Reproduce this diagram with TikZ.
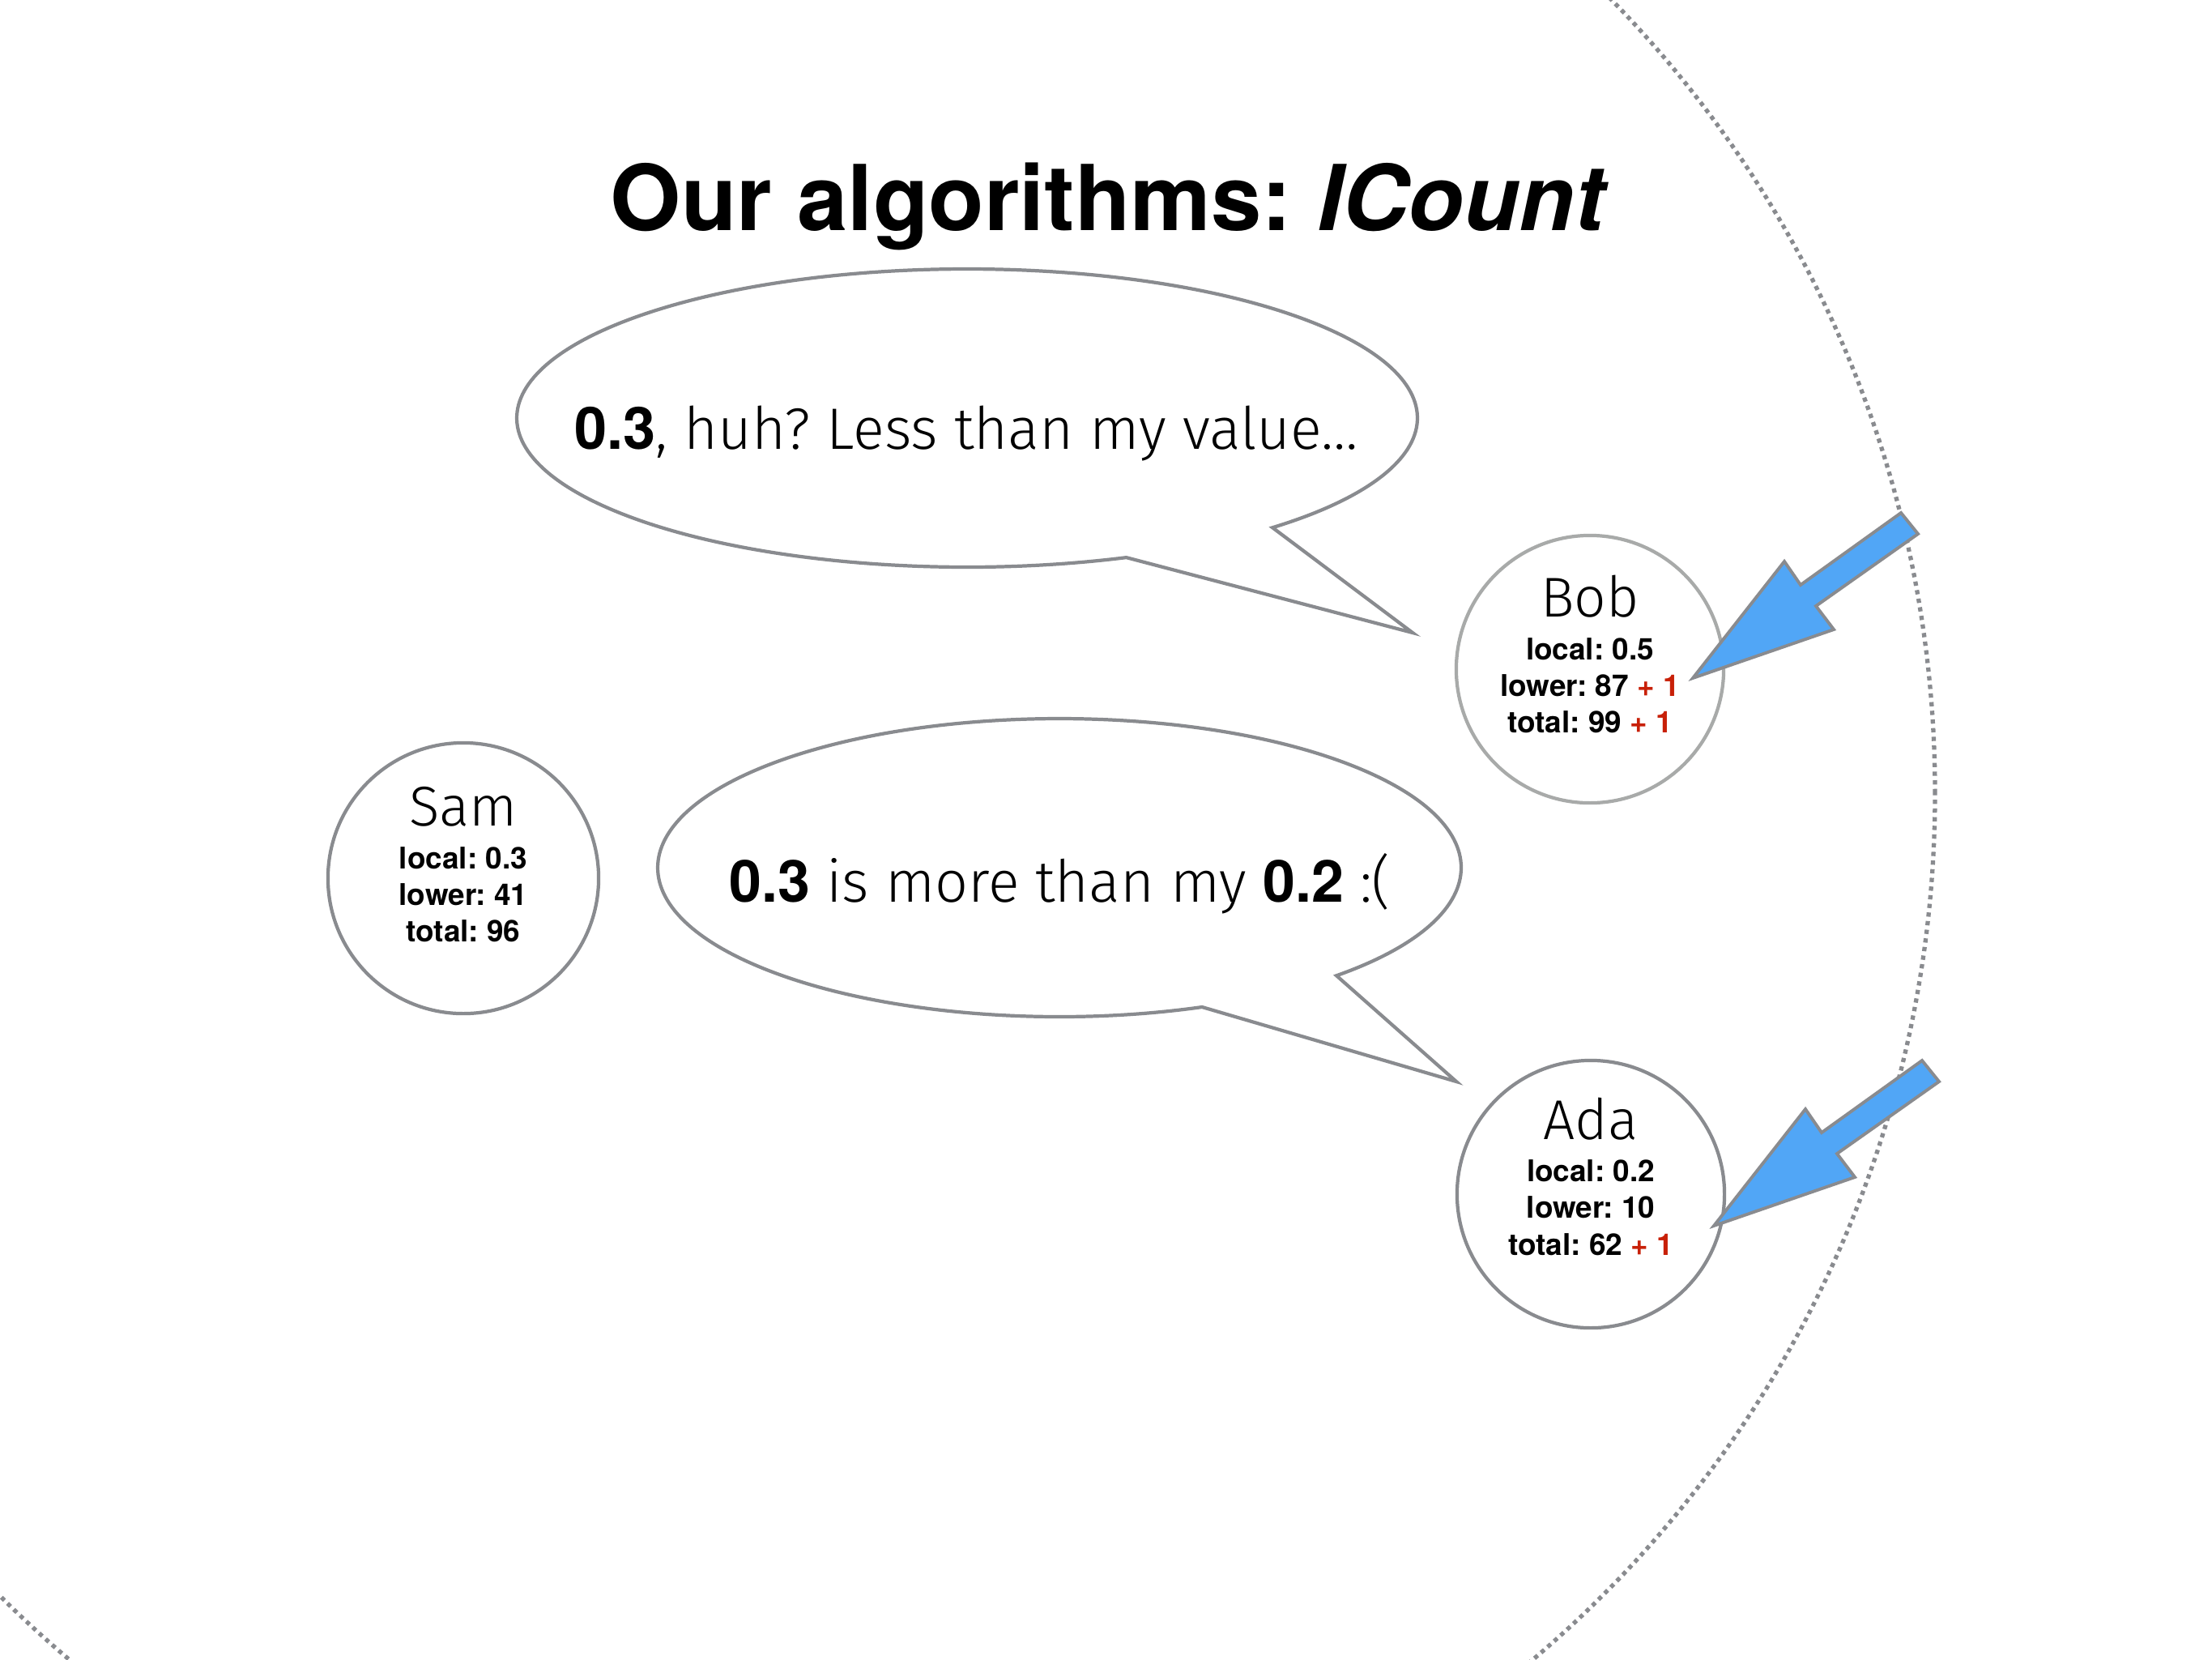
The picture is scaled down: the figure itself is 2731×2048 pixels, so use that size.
\documentclass[tikz,border=0pt]{standalone}
\usepackage{fontspec}
\setmainfont{TeX Gyre Heros}
\newfontfamily\thinfont{Fira Sans Light}
\frenchspacing
\usetikzlibrary{calc}

\definecolor{edgegray}{RGB}{137,139,143}
\definecolor{paleedge}{RGB}{168,170,169}
\definecolor{arrowblue}{RGB}{81,166,246}
\definecolor{plusred}{RGB}{200,32,8}

\newcommand{\addone}{\textcolor{plusred}{+ 1}}
\newcommand{\heavynum}[1]{{\normalfont\bfseries #1}}

\tikzset{
  peer/.style={circle, draw=edgegray, line width=1.2pt, fill=white,
    minimum size=3.30cm, inner sep=0pt},
  nametext/.style={font=\thinfont\fontsize{19.7pt}{22pt}\selectfont, anchor=base, inner sep=0pt},
  stattext/.style={font=\bfseries\fontsize{10.5pt}{12.8pt}\selectfont, anchor=base, inner sep=0pt},
  saytext/.style={font=\thinfont\fontsize{#1}{1.15em}\selectfont, anchor=base, inner sep=0pt},
  bubble/.style={draw=edgegray, line width=1.2pt, fill=white, line join=miter},
  orbit/.style={draw=edgegray, line width=1.5pt, dash pattern=on 1.5pt off 1.55pt},
  pointerstyle/.style={fill=arrowblue, draw=edgegray, line width=1.1pt, line join=miter},
  pics/pointer/.style={code={
    \draw[pointerstyle] (0,0) -- (113,144) -- (133,115) -- (257,204)
      -- (278,178) -- (152,89) -- (174,60) -- cycle;}}
}

\begin{document}
\begin{tikzpicture}[x=0.01cm, y=0.01cm]
  % page
  \fill[white] (0,0) rectangle (2731,-2048);
  \useasboundingbox (0,0) rectangle (2731,-2048);

  % large dotted neighbourhood circle
  \begin{scope}
    \clip (0,0) rectangle (2731,-2048);
    \coordinate (hub) at (989,-979);
    \draw[orbit] (hub) circle[radius=1400];
  \end{scope}

  % title
  \node[font=\bfseries\fontsize{31.9pt}{38pt}\selectfont, anchor=base, inner sep=0pt]
    (title) at (1370,-284) {Our algorithms: \textit{ICount}};

  % speech bubbles
  \coordinate (c1) at (1194,-516);
  \coordinate (c2) at (1308,-1071);
  \coordinate (tail1) at (1744,-781);
  \coordinate (tail2) at (1798,-1335);
  \draw[bubble] (c1) ++(-47.3:556 and 184)
    arc[start angle=-47.3, end angle=290.7, x radius=556, y radius=184]
    -- (tail1) -- cycle;
  \draw[bubble] (c2) ++(-46.4:496 and 184)
    arc[start angle=-46.4, end angle=290.8, x radius=496, y radius=184]
    -- (tail2) -- cycle;

  \node[saytext=20.5pt] (say1) at (1193,-554)
    {\heavynum{0.3}, huh? Less than my value…};
  \node[saytext=20.4pt] (say2) at (1309,-1113)
    {\heavynum{0.3} is more than my \heavynum{0.2} :(};

  % peers
  \node[peer, draw=paleedge] (bob) at (1963,-826) {};
  \node[peer, minimum size=3.34cm] (sam) at (572,-1084) {};
  \node[peer] (ada) at (1964,-1474) {};

  \node[nametext] (bobname) at ($(bob.center)+(0,65)$) {Bob};
  \node[stattext] (boblocal) at ($(bob.center)+(0,12)$) {local: 0.5};
  \node[stattext] (boblower) at ($(bob.center)+(0,-33)$) {lower: 87 \addone};
  \node[stattext] (bobtotal) at ($(bob.center)+(0,-78)$) {total: 99 \addone};

  \node[nametext] (samname) at ($(sam.center)+(0,65)$) {Sam};
  \node[stattext] (samlocal) at ($(sam.center)+(0,12)$) {local: 0.3};
  \node[stattext] (samlower) at ($(sam.center)+(0,-33)$) {lower: 41};
  \node[stattext] (samtotal) at ($(sam.center)+(0,-78)$) {total: 96};

  \node[nametext] (adaname) at ($(ada.center)+(0,68)$) {Ada};
  \node[stattext] (adalocal) at ($(ada.center)+(0,16)$) {local: 0.2};
  \node[stattext] (adalower) at ($(ada.center)+(0,-29)$) {lower: 10};
  \node[stattext] (adatotal) at ($(ada.center)+(0,-75)$) {total: 62 \addone};

  % incoming messages
  \pic (bobptr) at ($(bob.center)+(127,-11)$) {pointer};
  \pic (adaptr) at ($(ada.center)+(152,-39)$) {pointer};
\end{tikzpicture}
\end{document}
